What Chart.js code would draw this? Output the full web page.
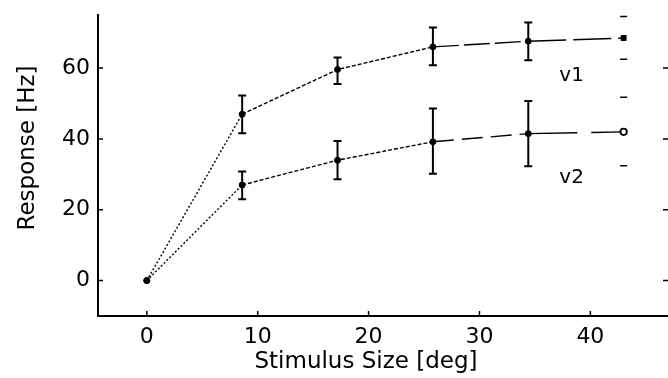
<!DOCTYPE html>
<html><head><meta charset="utf-8">
<script src="https://cdn.jsdelivr.net/npm/chart.js@4/dist/chart.umd.min.js"></script>
<style>html,body{margin:0;padding:0;background:#fff;overflow:hidden}#wrap{width:668px;height:378px}</style>
</head><body><div id="wrap"><canvas id="c" width="668" height="378"></canvas></div>
<script>
// ---- data ----
const sizes = [0, 8.6, 17.2, 25.8, 34.4, 43];
const v1 = [0, 47.0, 59.6, 66.0, 67.6, 68.5];
const v1Upper = [null, 52.3, 63.0, 71.5, 72.9, 74.6];
const v1Lower = [null, 41.6, 55.5, 60.8, 62.2, 62.5];
const v2 = [0, 27.0, 34.0, 39.2, 41.5, 42.0];
const v2Upper = [null, 30.8, 39.4, 48.6, 50.7, 51.8];
const v2Lower = [null, 23.0, 28.6, 30.2, 32.3, 32.4];
const xTicks = [0, 10, 20, 30, 40];
const yTicks = [0, 20, 40, 60];
const seriesNames = ['v1', 'v2'];
const xTitle = 'Stimulus Size [deg]';
const yTitle = 'Response [Hz]';

// ---- styles ----
const FONT = 'DejaVu Sans';
const dashV1 = [[2,2],[4,2],[4,2],[26,5],[38,7]];
const dashV2 = [[2,2],[4,2],[4,2],[21,8],[49,14]];

function pts(ys){ return sizes.map((x,i)=>({x:x, y:ys[i]})); }

const decor = {
  id: 'decor',
  afterDatasetsDraw(chart){
    const ctx = chart.ctx, xs = chart.scales.x, ys = chart.scales.y, a = chart.chartArea;
    ctx.save();
    ctx.strokeStyle = '#000'; ctx.fillStyle = '#000';
    // error bars
    const bars = [[v1Upper, v1Lower], [v2Upper, v2Lower]];
    bars.forEach(([hi, lo]) => {
      sizes.forEach((s, i) => {
        if (hi[i] == null) return;
        const px = xs.getPixelForValue(s);
        const yh = ys.getPixelForValue(hi[i]);
        const yl = ys.getPixelForValue(lo[i]);
        const last = i === sizes.length - 1;
        ctx.lineWidth = 2;
        if (!last) {
          ctx.beginPath(); ctx.moveTo(px, yh); ctx.lineTo(px, yl); ctx.stroke();
        }
        ctx.lineWidth = last ? 1.5 : 2;
        const hw = last ? 3.5 : 4;
        ctx.beginPath();
        ctx.moveTo(px-hw, yh); ctx.lineTo(px+hw, yh);
        ctx.moveTo(px-hw, yl); ctx.lineTo(px+hw, yl);
        ctx.stroke();
      });
    });
    // inward tick marks
    ctx.lineWidth = 1.5;
    ctx.beginPath();
    xTicks.forEach(v => { const p = xs.getPixelForValue(v); ctx.moveTo(p, a.bottom); ctx.lineTo(p, a.bottom-5); });
    yTicks.forEach(v => { const p = ys.getPixelForValue(v); ctx.moveTo(a.left, p); ctx.lineTo(a.left+5, p); ctx.moveTo(a.right, p); ctx.lineTo(a.right-5, p); });
    ctx.stroke();
    // series labels
    ctx.font = '20px "' + FONT + '"';
    ctx.textAlign = 'left'; ctx.textBaseline = 'alphabetic';
    ctx.fillText(seriesNames[0], xs.getPixelForValue(37.2), ys.getPixelForValue(56.3));
    ctx.fillText(seriesNames[1], xs.getPixelForValue(37.2), ys.getPixelForValue(27.6));
    // axis titles
    ctx.font = '23px "' + FONT + '"';
    ctx.textAlign = 'center';
    ctx.fillText(xTitle, 366, 368);
    ctx.translate(34, 148);
    ctx.rotate(-Math.PI/2);
    ctx.fillText(yTitle, 0, 0);
    ctx.restore();
  }
};

new Chart(document.getElementById('c'), {
  type: 'scatter',
  data: {
    datasets: [
      { label: seriesNames[0], data: pts(v1), showLine: true, borderColor: '#000', borderWidth: 1.4,
        backgroundColor: '#000', pointBackgroundColor: '#000', pointBorderColor: '#000', pointBorderWidth: 1,
        pointStyle: ['circle','circle','circle','circle','circle','rect'],
        pointRadius: [3,3,3,3,3,3.5],
        segment: { borderDash: c => dashV1[c.p0DataIndex] } },
      { label: seriesNames[1], data: pts(v2), showLine: true, borderColor: '#000', borderWidth: 1.4,
        backgroundColor: '#000', pointBackgroundColor: ['#000','#000','#000','#000','#000','#fff'],
        pointBorderColor: '#000', pointBorderWidth: [1,1,1,1,1,1.8],
        pointStyle: 'circle', pointRadius: [3,3,3,3,3,3.2],
        segment: { borderDash: c => dashV2[c.p0DataIndex] } }
    ]
  },
  options: {
    responsive: false, animation: false, devicePixelRatio: 1,
    layout: { autoPadding: false, padding: { top: 15, right: 0, left: 0, bottom: 0 } },
    plugins: { legend: { display: false }, tooltip: { enabled: false } },
    scales: {
      x: { type: 'linear', min: -4.4, max: 47,
        afterBuildTicks: s => { s.ticks = xTicks.map(v => ({value: v})); },
        afterFit: s => { s.height = 62; s.paddingLeft = 0; s.paddingRight = 0; s.paddingTop = 0; s.paddingBottom = 0; },
        grid: { display: false, drawTicks: false },
        border: { display: true, color: '#000', width: 2 },
        ticks: { color: '#000', padding: 8, font: { family: FONT, size: 22 }, maxRotation: 0 } },
      y: { type: 'linear', min: -10, max: 75,
        afterBuildTicks: s => { s.ticks = yTicks.map(v => ({value: v})); },
        afterFit: s => { s.width = 98; s.paddingTop = 0; s.paddingBottom = 0; s.paddingLeft = 0; s.paddingRight = 0; },
        grid: { display: false, drawTicks: false },
        border: { display: true, color: '#000', width: 2 },
        ticks: { color: '#000', padding: 8, font: { family: FONT, size: 22 } } }
    }
  },
  plugins: [decor]
});
</script></body></html>
